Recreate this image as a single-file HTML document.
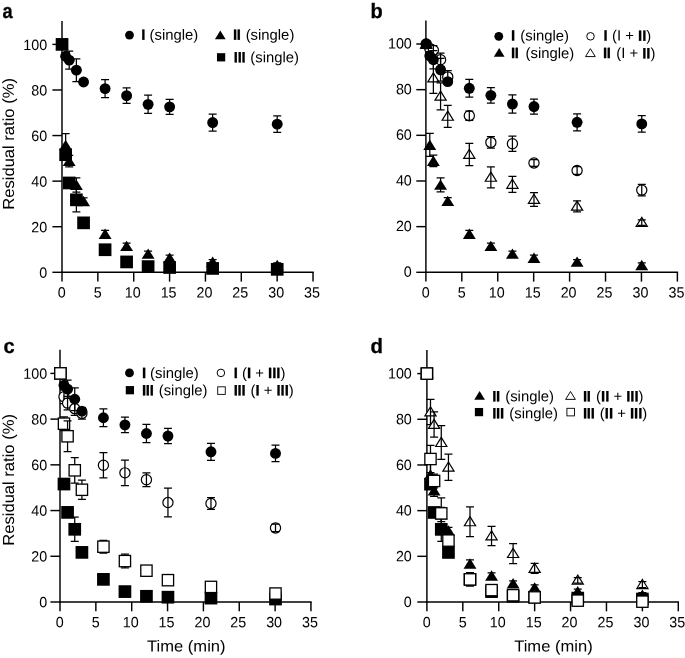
<!DOCTYPE html>
<html><head><meta charset="utf-8"><title>Residual ratio</title>
<style>
html,body{margin:0;padding:0;background:#fff;}
body{width:685px;height:658px;overflow:hidden;}
svg{display:block;will-change:transform;}
svg text{font-family:"Liberation Sans",sans-serif;fill:#000;text-rendering:geometricPrecision;}
</style></head><body>
<svg width="685" height="658" viewBox="0 0 685 658">
<rect width="685" height="658" fill="#fff"/>
<text transform="matrix(0.88,0.001,0,1,2.6,18)" font-size="20.7" font-weight="bold" stroke="#000" stroke-width="0.3">a</text>
<text transform="matrix(0.967,0.001,0,1,370.4,18)" font-size="20.7" font-weight="bold" stroke="#000" stroke-width="0.3">b</text>
<text transform="matrix(0.97,0.001,0,1,3.4,353)" font-size="20.7" font-weight="bold" stroke="#000" stroke-width="0.3">c</text>
<text transform="matrix(0.983,0.001,0,1,370.6,353)" font-size="20.7" font-weight="bold" stroke="#000" stroke-width="0.3">d</text>
<path d="M62 20.93V273.03" stroke="#000" stroke-width="1.45"/><path d="M61.27 272.3H313.75" stroke="#000" stroke-width="1.45"/><path d="M52.4 272.3H62" stroke="#000" stroke-width="1.45"/><text transform="matrix(0.96,0.001,0,1,47.1,277.8)" text-anchor="end" font-size="14.9">0</text><path d="M52.4 226.72H62" stroke="#000" stroke-width="1.45"/><text transform="matrix(0.96,0.001,0,1,47.1,232.22)" text-anchor="end" font-size="14.9">20</text><path d="M52.4 181.14H62" stroke="#000" stroke-width="1.45"/><text transform="matrix(0.96,0.001,0,1,47.1,186.64)" text-anchor="end" font-size="14.9">40</text><path d="M52.4 135.56H62" stroke="#000" stroke-width="1.45"/><text transform="matrix(0.96,0.001,0,1,47.1,141.06)" text-anchor="end" font-size="14.9">60</text><path d="M52.4 89.98H62" stroke="#000" stroke-width="1.45"/><text transform="matrix(0.96,0.001,0,1,47.1,95.48)" text-anchor="end" font-size="14.9">80</text><path d="M52.4 44.4H62" stroke="#000" stroke-width="1.45"/><text transform="matrix(0.96,0.001,0,1,47.1,49.9)" text-anchor="end" font-size="14.9">100</text><path d="M62 272.3V281.6" stroke="#000" stroke-width="1.45"/><text transform="matrix(0.96,0.001,0,1,61.8,297.6)" text-anchor="middle" font-size="14.9">0</text><path d="M97.86 272.3V281.6" stroke="#000" stroke-width="1.45"/><text transform="matrix(0.96,0.001,0,1,97.66,297.6)" text-anchor="middle" font-size="14.9">5</text><path d="M133.72 272.3V281.6" stroke="#000" stroke-width="1.45"/><text transform="matrix(0.96,0.001,0,1,132.72,297.6)" text-anchor="middle" font-size="14.9">10</text><path d="M169.58 272.3V281.6" stroke="#000" stroke-width="1.45"/><text transform="matrix(0.96,0.001,0,1,168.58,297.6)" text-anchor="middle" font-size="14.9">15</text><path d="M205.44 272.3V281.6" stroke="#000" stroke-width="1.45"/><text transform="matrix(0.96,0.001,0,1,204.44,297.6)" text-anchor="middle" font-size="14.9">20</text><path d="M241.3 272.3V281.6" stroke="#000" stroke-width="1.45"/><text transform="matrix(0.96,0.001,0,1,240.3,297.6)" text-anchor="middle" font-size="14.9">25</text><path d="M277.16 272.3V281.6" stroke="#000" stroke-width="1.45"/><text transform="matrix(0.96,0.001,0,1,276.16,297.6)" text-anchor="middle" font-size="14.9">30</text><path d="M313.02 272.3V281.6" stroke="#000" stroke-width="1.45"/><text transform="matrix(0.96,0.001,0,1,312.02,297.6)" text-anchor="middle" font-size="14.9">35</text>
<circle cx="62.05" cy="44.4" r="5.45" fill="#000"/><path d="M65.64 52.83V59.67M61.64 52.83H69.64M61.64 59.67H69.64" stroke="#000" stroke-width="1.25" fill="none"/><circle cx="65.64" cy="56.25" r="5.45" fill="#000"/><path d="M69.22 51.01V69.24M65.22 51.01H73.22M65.22 69.24H73.22" stroke="#000" stroke-width="1.25" fill="none"/><circle cx="69.22" cy="60.13" r="5.45" fill="#000"/><path d="M76.39 58.76V81.55M72.39 58.76H80.39M72.39 81.55H80.39" stroke="#000" stroke-width="1.25" fill="none"/><circle cx="76.39" cy="70.15" r="5.45" fill="#000"/><path d="M83.57 79.72V84.28M79.57 79.72H87.57M79.57 84.28H87.57" stroke="#000" stroke-width="1.25" fill="none"/><circle cx="83.57" cy="82" r="5.45" fill="#000"/><path d="M105.08 79.72V97.5M101.08 79.72H109.08M101.08 97.5H109.08" stroke="#000" stroke-width="1.25" fill="none"/><circle cx="105.08" cy="88.61" r="5.45" fill="#000"/><path d="M126.6 87.93V103.43M122.6 87.93H130.6M122.6 103.43H130.6" stroke="#000" stroke-width="1.25" fill="none"/><circle cx="126.6" cy="95.68" r="5.45" fill="#000"/><path d="M148.11 95.22V113.45M144.11 95.22H152.11M144.11 113.45H152.11" stroke="#000" stroke-width="1.25" fill="none"/><circle cx="148.11" cy="104.34" r="5.45" fill="#000"/><path d="M169.63 99.32V114.37M165.63 99.32H173.63M165.63 114.37H173.63" stroke="#000" stroke-width="1.25" fill="none"/><circle cx="169.63" cy="106.84" r="5.45" fill="#000"/><path d="M212.66 114.14V131M208.66 114.14H216.66M208.66 131H216.66" stroke="#000" stroke-width="1.25" fill="none"/><circle cx="212.66" cy="122.57" r="5.45" fill="#000"/><path d="M277.21 115.96V132.37M273.21 115.96H281.21M273.21 132.37H281.21" stroke="#000" stroke-width="1.25" fill="none"/><circle cx="277.21" cy="124.17" r="5.45" fill="#000"/>
<polygon points="62.05,39 68.5,49.4 55.6,49.4" fill="#000"/><path d="M65.64 133.74V156.53M61.64 133.74H69.64M61.64 156.53H69.64" stroke="#000" stroke-width="1.25" fill="none"/><polygon points="65.64,139.73 72.09,150.13 59.19,150.13" fill="#000"/><path d="M69.22 155.39V166.78M65.22 155.39H73.22M65.22 166.78H73.22" stroke="#000" stroke-width="1.25" fill="none"/><polygon points="69.22,155.68 75.67,166.08 62.77,166.08" fill="#000"/><path d="M76.39 177.95V192.08M72.39 177.95H80.39M72.39 192.08H80.39" stroke="#000" stroke-width="1.25" fill="none"/><polygon points="76.39,179.61 82.84,190.01 69.94,190.01" fill="#000"/><path d="M83.57 197.78V204.61M79.57 197.78H87.57M79.57 204.61H87.57" stroke="#000" stroke-width="1.25" fill="none"/><polygon points="83.57,195.8 90.02,206.2 77.12,206.2" fill="#000"/><path d="M105.08 230.37V237.66M101.08 230.37H109.08M101.08 237.66H109.08" stroke="#000" stroke-width="1.25" fill="none"/><polygon points="105.08,228.61 111.53,239.01 98.63,239.01" fill="#000"/><path d="M126.6 243.13V249.05M122.6 243.13H130.6M122.6 249.05H130.6" stroke="#000" stroke-width="1.25" fill="none"/><polygon points="126.6,240.69 133.05,251.09 120.15,251.09" fill="#000"/><path d="M148.11 251.11V256.57M144.11 251.11H152.11M144.11 256.57H152.11" stroke="#000" stroke-width="1.25" fill="none"/><polygon points="148.11,248.44 154.56,258.84 141.66,258.84" fill="#000"/><path d="M169.63 255.21V260.68M165.63 255.21H173.63M165.63 260.68H173.63" stroke="#000" stroke-width="1.25" fill="none"/><polygon points="169.63,252.54 176.08,262.94 163.18,262.94" fill="#000"/><path d="M212.66 259.54V264.1M208.66 259.54H216.66M208.66 264.1H216.66" stroke="#000" stroke-width="1.25" fill="none"/><polygon points="212.66,256.42 219.11,266.82 206.21,266.82" fill="#000"/><path d="M277.21 262.96V267.51M273.21 262.96H281.21M273.21 267.51H281.21" stroke="#000" stroke-width="1.25" fill="none"/><polygon points="277.21,259.84 283.66,270.24 270.76,270.24" fill="#000"/>
<rect x="55.7" y="38.05" width="12.7" height="12.7" fill="#000"/><path d="M65.64 150.15V159.26M61.64 150.15H69.64M61.64 159.26H69.64" stroke="#000" stroke-width="1.25" fill="none"/><rect x="59.29" y="148.35" width="12.7" height="12.7" fill="#000"/><path d="M69.22 180.68V185.24M65.22 180.68H73.22M65.22 185.24H73.22" stroke="#000" stroke-width="1.25" fill="none"/><rect x="62.87" y="176.61" width="12.7" height="12.7" fill="#000"/><path d="M76.39 187.75V211.91M72.39 187.75H80.39M72.39 211.91H80.39" stroke="#000" stroke-width="1.25" fill="none"/><rect x="70.04" y="193.48" width="12.7" height="12.7" fill="#000"/><path d="M83.57 220.57V225.12M79.57 220.57H87.57M79.57 225.12H87.57" stroke="#000" stroke-width="1.25" fill="none"/><rect x="77.22" y="216.5" width="12.7" height="12.7" fill="#000"/><path d="M105.08 247.46V252.02M101.08 247.46H109.08M101.08 252.02H109.08" stroke="#000" stroke-width="1.25" fill="none"/><rect x="98.73" y="243.39" width="12.7" height="12.7" fill="#000"/><path d="M126.6 260.11V263.75M122.6 260.11H130.6M122.6 263.75H130.6" stroke="#000" stroke-width="1.25" fill="none"/><rect x="120.25" y="255.58" width="12.7" height="12.7" fill="#000"/><path d="M148.11 265.46V267.74M144.11 265.46H152.11M144.11 267.74H152.11" stroke="#000" stroke-width="1.25" fill="none"/><rect x="141.76" y="260.25" width="12.7" height="12.7" fill="#000"/><path d="M169.63 266.37V268.65M165.63 266.37H173.63M165.63 268.65H173.63" stroke="#000" stroke-width="1.25" fill="none"/><rect x="163.28" y="261.16" width="12.7" height="12.7" fill="#000"/><path d="M212.66 267.51V269.34M208.66 267.51H216.66M208.66 269.34H216.66" stroke="#000" stroke-width="1.25" fill="none"/><rect x="206.31" y="262.08" width="12.7" height="12.7" fill="#000"/><path d="M277.21 268.65V270.02M273.21 268.65H281.21M273.21 270.02H281.21" stroke="#000" stroke-width="1.25" fill="none"/><rect x="270.86" y="262.99" width="12.7" height="12.7" fill="#000"/>
<path d="M425.9 20.49V273.03" stroke="#000" stroke-width="1.45"/><path d="M425.17 272.3H678.1" stroke="#000" stroke-width="1.45"/><path d="M416.3 272.3H425.9" stroke="#000" stroke-width="1.45"/><text transform="matrix(0.96,0.001,0,1,411.8,276.8)" text-anchor="end" font-size="14.9">0</text><path d="M416.3 226.64H425.9" stroke="#000" stroke-width="1.45"/><text transform="matrix(0.96,0.001,0,1,411.8,231.14)" text-anchor="end" font-size="14.9">20</text><path d="M416.3 180.98H425.9" stroke="#000" stroke-width="1.45"/><text transform="matrix(0.96,0.001,0,1,411.8,185.48)" text-anchor="end" font-size="14.9">40</text><path d="M416.3 135.32H425.9" stroke="#000" stroke-width="1.45"/><text transform="matrix(0.96,0.001,0,1,411.8,139.82)" text-anchor="end" font-size="14.9">60</text><path d="M416.3 89.66H425.9" stroke="#000" stroke-width="1.45"/><text transform="matrix(0.96,0.001,0,1,411.8,94.16)" text-anchor="end" font-size="14.9">80</text><path d="M416.3 44H425.9" stroke="#000" stroke-width="1.45"/><text transform="matrix(0.96,0.001,0,1,411.8,48.5)" text-anchor="end" font-size="14.9">100</text><path d="M425.9 272.3V281.6" stroke="#000" stroke-width="1.45"/><text transform="matrix(0.96,0.001,0,1,425.7,297.6)" text-anchor="middle" font-size="14.9">0</text><path d="M461.82 272.3V281.6" stroke="#000" stroke-width="1.45"/><text transform="matrix(0.96,0.001,0,1,461.62,297.6)" text-anchor="middle" font-size="14.9">5</text><path d="M497.75 272.3V281.6" stroke="#000" stroke-width="1.45"/><text transform="matrix(0.96,0.001,0,1,496.75,297.6)" text-anchor="middle" font-size="14.9">10</text><path d="M533.67 272.3V281.6" stroke="#000" stroke-width="1.45"/><text transform="matrix(0.96,0.001,0,1,532.67,297.6)" text-anchor="middle" font-size="14.9">15</text><path d="M569.6 272.3V281.6" stroke="#000" stroke-width="1.45"/><text transform="matrix(0.96,0.001,0,1,568.6,297.6)" text-anchor="middle" font-size="14.9">20</text><path d="M605.52 272.3V281.6" stroke="#000" stroke-width="1.45"/><text transform="matrix(0.96,0.001,0,1,604.52,297.6)" text-anchor="middle" font-size="14.9">25</text><path d="M641.45 272.3V281.6" stroke="#000" stroke-width="1.45"/><text transform="matrix(0.96,0.001,0,1,640.45,297.6)" text-anchor="middle" font-size="14.9">30</text><path d="M677.38 272.3V281.6" stroke="#000" stroke-width="1.45"/><text transform="matrix(0.96,0.001,0,1,676.38,297.6)" text-anchor="middle" font-size="14.9">35</text>
<circle cx="426.2" cy="44" r="5.1" fill="#fff" stroke="#000" stroke-width="1.2"/><circle cx="429.79" cy="48.57" r="5.1" fill="#fff" stroke="#000" stroke-width="1.2"/><path d="M429.79 45.14V51.99M425.79 45.14H433.79M425.79 51.99H433.79" stroke="#000" stroke-width="1.25" fill="none"/><circle cx="433.38" cy="50.16" r="5.1" fill="#fff" stroke="#000" stroke-width="1.2"/><path d="M433.38 45.6V54.73M429.38 45.6H437.38M429.38 54.73H437.38" stroke="#000" stroke-width="1.25" fill="none"/><circle cx="440.57" cy="59.75" r="5.1" fill="#fff" stroke="#000" stroke-width="1.2"/><path d="M440.57 53.13V66.37M436.57 53.13H444.57M436.57 66.37H444.57" stroke="#000" stroke-width="1.25" fill="none"/><circle cx="447.75" cy="76.88" r="5.1" fill="#fff" stroke="#000" stroke-width="1.2"/><path d="M447.75 70.71V83.04M443.75 70.71H451.75M443.75 83.04H451.75" stroke="#000" stroke-width="1.25" fill="none"/><circle cx="469.31" cy="115.69" r="5.1" fill="#fff" stroke="#000" stroke-width="1.2"/><path d="M469.31 111.12V120.25M465.31 111.12H473.31M465.31 120.25H473.31" stroke="#000" stroke-width="1.25" fill="none"/><circle cx="490.87" cy="142.4" r="5.1" fill="#fff" stroke="#000" stroke-width="1.2"/><path d="M490.87 136.69V148.1M486.87 136.69H494.87M486.87 148.1H494.87" stroke="#000" stroke-width="1.25" fill="none"/><circle cx="512.42" cy="143.77" r="5.1" fill="#fff" stroke="#000" stroke-width="1.2"/><path d="M512.42 136.23V151.3M508.42 136.23H516.42M508.42 151.3H516.42" stroke="#000" stroke-width="1.25" fill="none"/><circle cx="533.98" cy="162.94" r="5.1" fill="#fff" stroke="#000" stroke-width="1.2"/><path d="M533.98 159.52V166.37M529.98 159.52H537.98M529.98 166.37H537.98" stroke="#000" stroke-width="1.25" fill="none"/><circle cx="577.09" cy="170.48" r="5.1" fill="#fff" stroke="#000" stroke-width="1.2"/><path d="M577.09 166.71V174.25M573.09 166.71H581.09M573.09 174.25H581.09" stroke="#000" stroke-width="1.25" fill="none"/><circle cx="641.75" cy="190.11" r="5.1" fill="#fff" stroke="#000" stroke-width="1.2"/><path d="M641.75 184.4V195.82M637.75 184.4H645.75M637.75 195.82H645.75" stroke="#000" stroke-width="1.25" fill="none"/>
<polygon points="426.2,38.8 431.8,47.9 420.6,47.9" fill="#fff" stroke="#000" stroke-width="1.2" stroke-linejoin="miter"/><polygon points="433.38,72.82 438.99,81.92 427.78,81.92" fill="#fff" stroke="#000" stroke-width="1.2" stroke-linejoin="miter"/><path d="M433.38 62.72V93.31M429.38 62.72H437.38M429.38 93.31H437.38" stroke="#000" stroke-width="1.25" fill="none"/><polygon points="440.57,91.08 446.17,100.18 434.97,100.18" fill="#fff" stroke="#000" stroke-width="1.2" stroke-linejoin="miter"/><path d="M440.57 82.81V109.75M436.57 82.81H444.57M436.57 109.75H444.57" stroke="#000" stroke-width="1.25" fill="none"/><polygon points="447.75,111.17 453.36,120.27 442.15,120.27" fill="#fff" stroke="#000" stroke-width="1.2" stroke-linejoin="miter"/><path d="M447.75 105.41V127.33M443.75 105.41H451.75M443.75 127.33H451.75" stroke="#000" stroke-width="1.25" fill="none"/><polygon points="469.31,149.3 474.91,158.4 463.71,158.4" fill="#fff" stroke="#000" stroke-width="1.2" stroke-linejoin="miter"/><path d="M469.31 143.31V165.68M465.31 143.31H473.31M465.31 165.68H473.31" stroke="#000" stroke-width="1.25" fill="none"/><polygon points="490.87,172.13 496.47,181.23 485.26,181.23" fill="#fff" stroke="#000" stroke-width="1.2" stroke-linejoin="miter"/><path d="M490.87 166.83V187.83M486.87 166.83H494.87M486.87 187.83H494.87" stroke="#000" stroke-width="1.25" fill="none"/><polygon points="512.42,179.2 518.02,188.3 506.82,188.3" fill="#fff" stroke="#000" stroke-width="1.2" stroke-linejoin="miter"/><path d="M512.42 176.41V192.4M508.42 176.41H516.42M508.42 192.4H516.42" stroke="#000" stroke-width="1.25" fill="none"/><polygon points="533.98,194.27 539.58,203.37 528.38,203.37" fill="#fff" stroke="#000" stroke-width="1.2" stroke-linejoin="miter"/><path d="M533.98 192.62V206.32M529.98 192.62H537.98M529.98 206.32H537.98" stroke="#000" stroke-width="1.25" fill="none"/><polygon points="577.09,201.12 582.69,210.22 571.49,210.22" fill="#fff" stroke="#000" stroke-width="1.2" stroke-linejoin="miter"/><path d="M577.09 200.84V211.8M573.09 200.84H581.09M573.09 211.8H581.09" stroke="#000" stroke-width="1.25" fill="none"/><polygon points="641.75,217.33 647.35,226.43 636.15,226.43" fill="#fff" stroke="#000" stroke-width="1.2" stroke-linejoin="miter"/><path d="M641.75 219.79V225.27M637.75 219.79H645.75M637.75 225.27H645.75" stroke="#000" stroke-width="1.25" fill="none"/>
<polygon points="426.2,38.6 432.65,49 419.75,49" fill="#000"/><path d="M429.79 133.49V156.32M425.79 133.49H433.79M425.79 156.32H433.79" stroke="#000" stroke-width="1.25" fill="none"/><polygon points="429.79,139.51 436.24,149.91 423.34,149.91" fill="#000"/><path d="M433.38 155.18V166.6M429.38 155.18H437.38M429.38 166.6H437.38" stroke="#000" stroke-width="1.25" fill="none"/><polygon points="433.38,155.49 439.83,165.89 426.94,165.89" fill="#000"/><path d="M440.57 177.78V191.94M436.57 177.78H444.57M436.57 191.94H444.57" stroke="#000" stroke-width="1.25" fill="none"/><polygon points="440.57,179.46 447.02,189.86 434.12,189.86" fill="#000"/><path d="M447.75 197.65V204.49M443.75 197.65H451.75M443.75 204.49H451.75" stroke="#000" stroke-width="1.25" fill="none"/><polygon points="447.75,195.67 454.2,206.07 441.31,206.07" fill="#000"/><path d="M469.31 230.29V237.6M465.31 230.29H473.31M465.31 237.6H473.31" stroke="#000" stroke-width="1.25" fill="none"/><polygon points="469.31,228.55 475.76,238.95 462.86,238.95" fill="#000"/><path d="M490.87 243.08V249.01M486.87 243.08H494.87M486.87 249.01H494.87" stroke="#000" stroke-width="1.25" fill="none"/><polygon points="490.87,240.65 497.31,251.05 484.42,251.05" fill="#000"/><path d="M512.42 251.07V256.55M508.42 251.07H516.42M508.42 256.55H516.42" stroke="#000" stroke-width="1.25" fill="none"/><polygon points="512.42,248.41 518.87,258.81 505.97,258.81" fill="#000"/><path d="M533.98 255.18V260.66M529.98 255.18H537.98M529.98 260.66H537.98" stroke="#000" stroke-width="1.25" fill="none"/><polygon points="533.98,252.52 540.43,262.92 527.52,262.92" fill="#000"/><path d="M577.09 259.52V264.08M573.09 259.52H581.09M573.09 264.08H581.09" stroke="#000" stroke-width="1.25" fill="none"/><polygon points="577.09,256.4 583.54,266.8 570.63,266.8" fill="#000"/><path d="M641.75 262.94V267.51M637.75 262.94H645.75M637.75 267.51H645.75" stroke="#000" stroke-width="1.25" fill="none"/><polygon points="641.75,259.82 648.2,270.22 635.3,270.22" fill="#000"/>
<circle cx="426.2" cy="44" r="5.45" fill="#000"/><path d="M429.79 52.45V59.3M425.79 52.45H433.79M425.79 59.3H433.79" stroke="#000" stroke-width="1.25" fill="none"/><circle cx="429.79" cy="55.87" r="5.45" fill="#000"/><path d="M433.38 50.62V68.88M429.38 50.62H437.38M429.38 68.88H437.38" stroke="#000" stroke-width="1.25" fill="none"/><circle cx="433.38" cy="59.75" r="5.45" fill="#000"/><path d="M440.57 58.38V81.21M436.57 58.38H444.57M436.57 81.21H444.57" stroke="#000" stroke-width="1.25" fill="none"/><circle cx="440.57" cy="69.8" r="5.45" fill="#000"/><path d="M447.75 79.39V83.95M443.75 79.39H451.75M443.75 83.95H451.75" stroke="#000" stroke-width="1.25" fill="none"/><circle cx="447.75" cy="81.67" r="5.45" fill="#000"/><path d="M469.31 79.39V97.19M465.31 79.39H473.31M465.31 97.19H473.31" stroke="#000" stroke-width="1.25" fill="none"/><circle cx="469.31" cy="88.29" r="5.45" fill="#000"/><path d="M490.87 87.61V103.13M486.87 87.61H494.87M486.87 103.13H494.87" stroke="#000" stroke-width="1.25" fill="none"/><circle cx="490.87" cy="95.37" r="5.45" fill="#000"/><path d="M512.42 94.91V113.17M508.42 94.91H516.42M508.42 113.17H516.42" stroke="#000" stroke-width="1.25" fill="none"/><circle cx="512.42" cy="104.04" r="5.45" fill="#000"/><path d="M533.98 99.02V114.09M529.98 99.02H537.98M529.98 114.09H537.98" stroke="#000" stroke-width="1.25" fill="none"/><circle cx="533.98" cy="106.55" r="5.45" fill="#000"/><path d="M577.09 113.86V130.75M573.09 113.86H581.09M573.09 130.75H581.09" stroke="#000" stroke-width="1.25" fill="none"/><circle cx="577.09" cy="122.31" r="5.45" fill="#000"/><path d="M641.75 115.69V132.12M637.75 115.69H645.75M637.75 132.12H645.75" stroke="#000" stroke-width="1.25" fill="none"/><circle cx="641.75" cy="123.91" r="5.45" fill="#000"/>
<path d="M60 349.85V602.73" stroke="#000" stroke-width="1.45"/><path d="M59.27 602H311.68" stroke="#000" stroke-width="1.45"/><path d="M50.4 602H60" stroke="#000" stroke-width="1.45"/><text transform="matrix(0.96,0.001,0,1,47.1,607.3)" text-anchor="end" font-size="14.9">0</text><path d="M50.4 556.28H60" stroke="#000" stroke-width="1.45"/><text transform="matrix(0.96,0.001,0,1,47.1,561.58)" text-anchor="end" font-size="14.9">20</text><path d="M50.4 510.56H60" stroke="#000" stroke-width="1.45"/><text transform="matrix(0.96,0.001,0,1,47.1,515.86)" text-anchor="end" font-size="14.9">40</text><path d="M50.4 464.84H60" stroke="#000" stroke-width="1.45"/><text transform="matrix(0.96,0.001,0,1,47.1,470.14)" text-anchor="end" font-size="14.9">60</text><path d="M50.4 419.12H60" stroke="#000" stroke-width="1.45"/><text transform="matrix(0.96,0.001,0,1,47.1,424.42)" text-anchor="end" font-size="14.9">80</text><path d="M50.4 373.4H60" stroke="#000" stroke-width="1.45"/><text transform="matrix(0.96,0.001,0,1,47.1,378.7)" text-anchor="end" font-size="14.9">100</text><path d="M60 602V611.3" stroke="#000" stroke-width="1.45"/><text transform="matrix(0.96,0.001,0,1,59.8,627.3)" text-anchor="middle" font-size="14.9">0</text><path d="M95.85 602V611.3" stroke="#000" stroke-width="1.45"/><text transform="matrix(0.96,0.001,0,1,95.65,627.3)" text-anchor="middle" font-size="14.9">5</text><path d="M131.7 602V611.3" stroke="#000" stroke-width="1.45"/><text transform="matrix(0.96,0.001,0,1,130.7,627.3)" text-anchor="middle" font-size="14.9">10</text><path d="M167.55 602V611.3" stroke="#000" stroke-width="1.45"/><text transform="matrix(0.96,0.001,0,1,166.55,627.3)" text-anchor="middle" font-size="14.9">15</text><path d="M203.4 602V611.3" stroke="#000" stroke-width="1.45"/><text transform="matrix(0.96,0.001,0,1,202.4,627.3)" text-anchor="middle" font-size="14.9">20</text><path d="M239.25 602V611.3" stroke="#000" stroke-width="1.45"/><text transform="matrix(0.96,0.001,0,1,238.25,627.3)" text-anchor="middle" font-size="14.9">25</text><path d="M275.1 602V611.3" stroke="#000" stroke-width="1.45"/><text transform="matrix(0.96,0.001,0,1,274.1,627.3)" text-anchor="middle" font-size="14.9">30</text><path d="M310.95 602V611.3" stroke="#000" stroke-width="1.45"/><text transform="matrix(0.96,0.001,0,1,309.95,627.3)" text-anchor="middle" font-size="14.9">35</text>
<circle cx="60.4" cy="373.4" r="5.1" fill="#fff" stroke="#000" stroke-width="1.2"/><circle cx="63.98" cy="396.72" r="5.1" fill="#fff" stroke="#000" stroke-width="1.2"/><path d="M63.98 389.86V403.58M59.98 389.86H67.98M59.98 403.58H67.98" stroke="#000" stroke-width="1.25" fill="none"/><circle cx="67.57" cy="403.12" r="5.1" fill="#fff" stroke="#000" stroke-width="1.2"/><path d="M67.57 396.26V409.98M63.57 396.26H71.57M63.57 409.98H71.57" stroke="#000" stroke-width="1.25" fill="none"/><circle cx="74.74" cy="408.6" r="5.1" fill="#fff" stroke="#000" stroke-width="1.2"/><path d="M74.74 401.75V415.46M70.74 401.75H78.74M70.74 415.46H78.74" stroke="#000" stroke-width="1.25" fill="none"/><circle cx="81.91" cy="413.4" r="5.1" fill="#fff" stroke="#000" stroke-width="1.2"/><path d="M81.91 407.69V419.12M77.91 407.69H85.91M77.91 419.12H85.91" stroke="#000" stroke-width="1.25" fill="none"/><circle cx="103.42" cy="465.3" r="5.1" fill="#fff" stroke="#000" stroke-width="1.2"/><path d="M103.42 452.72V477.87M99.42 452.72H107.42M99.42 477.87H107.42" stroke="#000" stroke-width="1.25" fill="none"/><circle cx="124.93" cy="472.84" r="5.1" fill="#fff" stroke="#000" stroke-width="1.2"/><path d="M124.93 460.04V485.64M120.93 460.04H128.93M120.93 485.64H128.93" stroke="#000" stroke-width="1.25" fill="none"/><circle cx="146.44" cy="479.7" r="5.1" fill="#fff" stroke="#000" stroke-width="1.2"/><path d="M146.44 472.84V486.56M142.44 472.84H150.44M142.44 486.56H150.44" stroke="#000" stroke-width="1.25" fill="none"/><circle cx="167.95" cy="502.56" r="5.1" fill="#fff" stroke="#000" stroke-width="1.2"/><path d="M167.95 488.16V516.96M163.95 488.16H171.95M163.95 516.96H171.95" stroke="#000" stroke-width="1.25" fill="none"/><circle cx="210.97" cy="503.47" r="5.1" fill="#fff" stroke="#000" stroke-width="1.2"/><path d="M210.97 497.53V509.42M206.97 497.53H214.97M206.97 509.42H214.97" stroke="#000" stroke-width="1.25" fill="none"/><circle cx="275.5" cy="527.93" r="5.1" fill="#fff" stroke="#000" stroke-width="1.2"/><path d="M275.5 524.16V531.71M271.5 524.16H279.5M271.5 531.71H279.5" stroke="#000" stroke-width="1.25" fill="none"/>
<circle cx="60.4" cy="373.4" r="5.45" fill="#000"/><path d="M63.98 381.86V388.72M59.98 381.86H67.98M59.98 388.72H67.98" stroke="#000" stroke-width="1.25" fill="none"/><circle cx="63.98" cy="385.29" r="5.45" fill="#000"/><path d="M67.57 380.03V398.32M63.57 380.03H71.57M63.57 398.32H71.57" stroke="#000" stroke-width="1.25" fill="none"/><circle cx="67.57" cy="389.17" r="5.45" fill="#000"/><path d="M74.74 387.8V410.66M70.74 387.8H78.74M70.74 410.66H78.74" stroke="#000" stroke-width="1.25" fill="none"/><circle cx="74.74" cy="399.23" r="5.45" fill="#000"/><path d="M81.91 408.83V413.41M77.91 408.83H85.91M77.91 413.41H85.91" stroke="#000" stroke-width="1.25" fill="none"/><circle cx="81.91" cy="411.12" r="5.45" fill="#000"/><path d="M103.42 408.83V426.66M99.42 408.83H107.42M99.42 426.66H107.42" stroke="#000" stroke-width="1.25" fill="none"/><circle cx="103.42" cy="417.75" r="5.45" fill="#000"/><path d="M124.93 417.06V432.61M120.93 417.06H128.93M120.93 432.61H128.93" stroke="#000" stroke-width="1.25" fill="none"/><circle cx="124.93" cy="424.84" r="5.45" fill="#000"/><path d="M146.44 424.38V442.67M142.44 424.38H150.44M142.44 442.67H150.44" stroke="#000" stroke-width="1.25" fill="none"/><circle cx="146.44" cy="433.52" r="5.45" fill="#000"/><path d="M167.95 428.49V443.58M163.95 428.49H171.95M163.95 443.58H171.95" stroke="#000" stroke-width="1.25" fill="none"/><circle cx="167.95" cy="436.04" r="5.45" fill="#000"/><path d="M210.97 443.35V460.27M206.97 443.35H214.97M206.97 460.27H214.97" stroke="#000" stroke-width="1.25" fill="none"/><circle cx="210.97" cy="451.81" r="5.45" fill="#000"/><path d="M275.5 445.18V461.64M271.5 445.18H279.5M271.5 461.64H279.5" stroke="#000" stroke-width="1.25" fill="none"/><circle cx="275.5" cy="453.41" r="5.45" fill="#000"/>
<rect x="54.05" y="367.05" width="12.7" height="12.7" fill="#000"/><path d="M63.98 479.47V488.61M59.98 479.47H67.98M59.98 488.61H67.98" stroke="#000" stroke-width="1.25" fill="none"/><rect x="57.63" y="477.69" width="12.7" height="12.7" fill="#000"/><path d="M67.57 510.1V514.67M63.57 510.1H71.57M63.57 514.67H71.57" stroke="#000" stroke-width="1.25" fill="none"/><rect x="61.22" y="506.04" width="12.7" height="12.7" fill="#000"/><path d="M74.74 517.19V541.42M70.74 517.19H78.74M70.74 541.42H78.74" stroke="#000" stroke-width="1.25" fill="none"/><rect x="68.39" y="522.96" width="12.7" height="12.7" fill="#000"/><path d="M81.91 550.11V554.68M77.91 550.11H85.91M77.91 554.68H85.91" stroke="#000" stroke-width="1.25" fill="none"/><rect x="75.56" y="546.04" width="12.7" height="12.7" fill="#000"/><path d="M103.42 577.08V581.65M99.42 577.08H107.42M99.42 581.65H107.42" stroke="#000" stroke-width="1.25" fill="none"/><rect x="97.07" y="573.02" width="12.7" height="12.7" fill="#000"/><path d="M124.93 589.77V593.43M120.93 589.77H128.93M120.93 593.43H128.93" stroke="#000" stroke-width="1.25" fill="none"/><rect x="118.58" y="585.25" width="12.7" height="12.7" fill="#000"/><path d="M146.44 595.14V597.43M142.44 595.14H150.44M142.44 597.43H150.44" stroke="#000" stroke-width="1.25" fill="none"/><rect x="140.09" y="589.93" width="12.7" height="12.7" fill="#000"/><path d="M167.95 596.06V598.34M163.95 596.06H171.95M163.95 598.34H171.95" stroke="#000" stroke-width="1.25" fill="none"/><rect x="161.6" y="590.85" width="12.7" height="12.7" fill="#000"/><path d="M210.97 597.2V599.03M206.97 597.2H214.97M206.97 599.03H214.97" stroke="#000" stroke-width="1.25" fill="none"/><rect x="204.62" y="591.76" width="12.7" height="12.7" fill="#000"/><path d="M275.5 598.34V599.71M271.5 598.34H279.5M271.5 599.71H279.5" stroke="#000" stroke-width="1.25" fill="none"/><rect x="269.15" y="592.68" width="12.7" height="12.7" fill="#000"/>
<rect x="54.75" y="367.75" width="11.3" height="11.3" fill="#fff" stroke="#000" stroke-width="1.3"/><path d="M63.98 416.83V430.55M59.98 416.83H67.98M59.98 430.55H67.98" stroke="#000" stroke-width="1.25" fill="none"/><rect x="58.34" y="418.04" width="11.3" height="11.3" fill="#fff" stroke="#000" stroke-width="1.3"/><path d="M67.57 420.95V451.58M63.57 420.95H71.57M63.57 451.58H71.57" stroke="#000" stroke-width="1.25" fill="none"/><rect x="61.92" y="430.62" width="11.3" height="11.3" fill="#fff" stroke="#000" stroke-width="1.3"/><path d="M74.74 457.52V483.13M70.74 457.52H78.74M70.74 483.13H78.74" stroke="#000" stroke-width="1.25" fill="none"/><rect x="69.09" y="464.68" width="11.3" height="11.3" fill="#fff" stroke="#000" stroke-width="1.3"/><path d="M81.91 480.16V499.36M77.91 480.16H85.91M77.91 499.36H85.91" stroke="#000" stroke-width="1.25" fill="none"/><rect x="76.26" y="484.11" width="11.3" height="11.3" fill="#fff" stroke="#000" stroke-width="1.3"/><path d="M103.42 540.28V553.08M99.42 540.28H107.42M99.42 553.08H107.42" stroke="#000" stroke-width="1.25" fill="none"/><rect x="97.77" y="541.03" width="11.3" height="11.3" fill="#fff" stroke="#000" stroke-width="1.3"/><path d="M124.93 554.22V567.94M120.93 554.22H128.93M120.93 567.94H128.93" stroke="#000" stroke-width="1.25" fill="none"/><rect x="119.28" y="555.43" width="11.3" height="11.3" fill="#fff" stroke="#000" stroke-width="1.3"/><path d="M146.44 568.4V572.97M142.44 568.4H150.44M142.44 572.97H150.44" stroke="#000" stroke-width="1.25" fill="none"/><rect x="140.79" y="565.03" width="11.3" height="11.3" fill="#fff" stroke="#000" stroke-width="1.3"/><path d="M167.95 577.88V582.45M163.95 577.88H171.95M163.95 582.45H171.95" stroke="#000" stroke-width="1.25" fill="none"/><rect x="162.3" y="574.52" width="11.3" height="11.3" fill="#fff" stroke="#000" stroke-width="1.3"/><path d="M210.97 585.08V588.74M206.97 585.08H214.97M206.97 588.74H214.97" stroke="#000" stroke-width="1.25" fill="none"/><rect x="205.32" y="581.26" width="11.3" height="11.3" fill="#fff" stroke="#000" stroke-width="1.3"/><path d="M275.5 592.4V594.68M271.5 592.4H279.5M271.5 594.68H279.5" stroke="#000" stroke-width="1.25" fill="none"/><rect x="269.85" y="587.89" width="11.3" height="11.3" fill="#fff" stroke="#000" stroke-width="1.3"/>
<path d="M426.9 350.07V602.73" stroke="#000" stroke-width="1.45"/><path d="M426.17 602H679.03" stroke="#000" stroke-width="1.45"/><path d="M417.3 602H426.9" stroke="#000" stroke-width="1.45"/><text transform="matrix(0.96,0.001,0,1,411.8,606.95)" text-anchor="end" font-size="14.9">0</text><path d="M417.3 556.32H426.9" stroke="#000" stroke-width="1.45"/><text transform="matrix(0.96,0.001,0,1,411.8,561.27)" text-anchor="end" font-size="14.9">20</text><path d="M417.3 510.64H426.9" stroke="#000" stroke-width="1.45"/><text transform="matrix(0.96,0.001,0,1,411.8,515.59)" text-anchor="end" font-size="14.9">40</text><path d="M417.3 464.96H426.9" stroke="#000" stroke-width="1.45"/><text transform="matrix(0.96,0.001,0,1,411.8,469.91)" text-anchor="end" font-size="14.9">60</text><path d="M417.3 419.28H426.9" stroke="#000" stroke-width="1.45"/><text transform="matrix(0.96,0.001,0,1,411.8,424.23)" text-anchor="end" font-size="14.9">80</text><path d="M417.3 373.6H426.9" stroke="#000" stroke-width="1.45"/><text transform="matrix(0.96,0.001,0,1,411.8,378.55)" text-anchor="end" font-size="14.9">100</text><path d="M426.9 602V611.3" stroke="#000" stroke-width="1.45"/><text transform="matrix(0.96,0.001,0,1,426.7,627.3)" text-anchor="middle" font-size="14.9">0</text><path d="M462.81 602V611.3" stroke="#000" stroke-width="1.45"/><text transform="matrix(0.96,0.001,0,1,462.62,627.3)" text-anchor="middle" font-size="14.9">5</text><path d="M498.73 602V611.3" stroke="#000" stroke-width="1.45"/><text transform="matrix(0.96,0.001,0,1,497.73,627.3)" text-anchor="middle" font-size="14.9">10</text><path d="M534.64 602V611.3" stroke="#000" stroke-width="1.45"/><text transform="matrix(0.96,0.001,0,1,533.64,627.3)" text-anchor="middle" font-size="14.9">15</text><path d="M570.56 602V611.3" stroke="#000" stroke-width="1.45"/><text transform="matrix(0.96,0.001,0,1,569.56,627.3)" text-anchor="middle" font-size="14.9">20</text><path d="M606.47 602V611.3" stroke="#000" stroke-width="1.45"/><text transform="matrix(0.96,0.001,0,1,605.47,627.3)" text-anchor="middle" font-size="14.9">25</text><path d="M642.39 602V611.3" stroke="#000" stroke-width="1.45"/><text transform="matrix(0.96,0.001,0,1,641.39,627.3)" text-anchor="middle" font-size="14.9">30</text><path d="M678.3 602V611.3" stroke="#000" stroke-width="1.45"/><text transform="matrix(0.96,0.001,0,1,677.3,627.3)" text-anchor="middle" font-size="14.9">35</text>
<polygon points="426.9,368.2 433.35,378.6 420.45,378.6" fill="#000"/><path d="M430.49 463.13V485.97M426.49 463.13H434.49M426.49 485.97H434.49" stroke="#000" stroke-width="1.25" fill="none"/><polygon points="430.49,469.15 436.94,479.55 424.04,479.55" fill="#000"/><path d="M434.08 484.83V496.25M430.08 484.83H438.08M430.08 496.25H438.08" stroke="#000" stroke-width="1.25" fill="none"/><polygon points="434.08,485.14 440.53,495.54 427.63,495.54" fill="#000"/><path d="M441.27 507.44V521.6M437.27 507.44H445.27M437.27 521.6H445.27" stroke="#000" stroke-width="1.25" fill="none"/><polygon points="441.27,509.12 447.72,519.52 434.82,519.52" fill="#000"/><path d="M448.45 527.31V534.17M444.45 527.31H452.45M444.45 534.17H452.45" stroke="#000" stroke-width="1.25" fill="none"/><polygon points="448.45,525.34 454.9,535.74 442,535.74" fill="#000"/><path d="M470 559.97V567.28M466 559.97H474M466 567.28H474" stroke="#000" stroke-width="1.25" fill="none"/><polygon points="470,558.23 476.45,568.63 463.55,568.63" fill="#000"/><path d="M491.55 572.76V578.7M487.55 572.76H495.55M487.55 578.7H495.55" stroke="#000" stroke-width="1.25" fill="none"/><polygon points="491.55,570.33 498,580.73 485.1,580.73" fill="#000"/><path d="M513.1 580.76V586.24M509.1 580.76H517.1M509.1 586.24H517.1" stroke="#000" stroke-width="1.25" fill="none"/><polygon points="513.1,578.1 519.55,588.5 506.65,588.5" fill="#000"/><path d="M534.64 584.87V590.35M530.64 584.87H538.64M530.64 590.35H538.64" stroke="#000" stroke-width="1.25" fill="none"/><polygon points="534.64,582.21 541.1,592.61 528.19,592.61" fill="#000"/><path d="M577.74 589.21V593.78M573.74 589.21H581.74M573.74 593.78H581.74" stroke="#000" stroke-width="1.25" fill="none"/><polygon points="577.74,586.09 584.19,596.49 571.29,596.49" fill="#000"/><path d="M642.39 592.64V597.2M638.39 592.64H646.39M638.39 597.2H646.39" stroke="#000" stroke-width="1.25" fill="none"/><polygon points="642.39,589.52 648.84,599.92 635.94,599.92" fill="#000"/>
<rect x="420.55" y="367.25" width="12.7" height="12.7" fill="#000"/><path d="M430.49 479.58V488.71M426.49 479.58H434.49M426.49 488.71H434.49" stroke="#000" stroke-width="1.25" fill="none"/><rect x="424.14" y="477.8" width="12.7" height="12.7" fill="#000"/><path d="M434.08 510.18V514.75M430.08 510.18H438.08M430.08 514.75H438.08" stroke="#000" stroke-width="1.25" fill="none"/><rect x="427.73" y="506.12" width="12.7" height="12.7" fill="#000"/><path d="M441.27 517.26V541.47M437.27 517.26H445.27M437.27 541.47H445.27" stroke="#000" stroke-width="1.25" fill="none"/><rect x="434.92" y="523.02" width="12.7" height="12.7" fill="#000"/><path d="M448.45 550.15V554.72M444.45 550.15H452.45M444.45 554.72H452.45" stroke="#000" stroke-width="1.25" fill="none"/><rect x="442.1" y="546.09" width="12.7" height="12.7" fill="#000"/><path d="M470 577.1V581.67M466 577.1H474M466 581.67H474" stroke="#000" stroke-width="1.25" fill="none"/><rect x="463.65" y="573.04" width="12.7" height="12.7" fill="#000"/><path d="M491.55 589.78V593.43M487.55 589.78H495.55M487.55 593.43H495.55" stroke="#000" stroke-width="1.25" fill="none"/><rect x="485.2" y="585.26" width="12.7" height="12.7" fill="#000"/><path d="M513.1 595.15V597.43M509.1 595.15H517.1M509.1 597.43H517.1" stroke="#000" stroke-width="1.25" fill="none"/><rect x="506.75" y="589.94" width="12.7" height="12.7" fill="#000"/><path d="M534.64 596.06V598.35M530.64 596.06H538.64M530.64 598.35H538.64" stroke="#000" stroke-width="1.25" fill="none"/><rect x="528.29" y="590.85" width="12.7" height="12.7" fill="#000"/><path d="M577.74 597.2V599.03M573.74 597.2H581.74M573.74 599.03H581.74" stroke="#000" stroke-width="1.25" fill="none"/><rect x="571.39" y="591.77" width="12.7" height="12.7" fill="#000"/><path d="M642.39 598.35V599.72M638.39 598.35H646.39M638.39 599.72H646.39" stroke="#000" stroke-width="1.25" fill="none"/><rect x="636.04" y="592.68" width="12.7" height="12.7" fill="#000"/>
<polygon points="426.9,368.4 432.5,377.5 421.3,377.5" fill="#fff" stroke="#000" stroke-width="1.2" stroke-linejoin="miter"/><polygon points="430.49,406.77 436.09,415.87 424.89,415.87" fill="#fff" stroke="#000" stroke-width="1.2" stroke-linejoin="miter"/><path d="M430.49 399.41V424.53M426.49 399.41H434.49M426.49 424.53H434.49" stroke="#000" stroke-width="1.25" fill="none"/><polygon points="434.08,419.33 439.68,428.43 428.48,428.43" fill="#fff" stroke="#000" stroke-width="1.2" stroke-linejoin="miter"/><path d="M434.08 411.97V437.1M430.08 411.97H438.08M430.08 437.1H438.08" stroke="#000" stroke-width="1.25" fill="none"/><polygon points="441.27,437.38 446.87,446.48 435.67,446.48" fill="#fff" stroke="#000" stroke-width="1.2" stroke-linejoin="miter"/><path d="M441.27 425.68V459.48M437.27 425.68H445.27M437.27 459.48H445.27" stroke="#000" stroke-width="1.25" fill="none"/><polygon points="448.45,462.04 454.05,471.14 442.85,471.14" fill="#fff" stroke="#000" stroke-width="1.2" stroke-linejoin="miter"/><path d="M448.45 454V480.49M444.45 454H452.45M444.45 480.49H452.45" stroke="#000" stroke-width="1.25" fill="none"/><polygon points="470,516.63 475.6,525.73 464.4,525.73" fill="#fff" stroke="#000" stroke-width="1.2" stroke-linejoin="miter"/><path d="M470 506.99V536.68M466 506.99H474M466 536.68H474" stroke="#000" stroke-width="1.25" fill="none"/><polygon points="491.55,530.79 497.15,539.89 485.95,539.89" fill="#fff" stroke="#000" stroke-width="1.2" stroke-linejoin="miter"/><path d="M491.55 526.4V545.59M487.55 526.4H495.55M487.55 545.59H495.55" stroke="#000" stroke-width="1.25" fill="none"/><polygon points="513.1,548.38 518.7,557.48 507.5,557.48" fill="#fff" stroke="#000" stroke-width="1.2" stroke-linejoin="miter"/><path d="M513.1 543.53V563.63M509.1 543.53H517.1M509.1 563.63H517.1" stroke="#000" stroke-width="1.25" fill="none"/><polygon points="534.64,563.23 540.25,572.33 529.04,572.33" fill="#fff" stroke="#000" stroke-width="1.2" stroke-linejoin="miter"/><path d="M534.64 563.4V573.45M530.64 563.4H538.64M530.64 573.45H538.64" stroke="#000" stroke-width="1.25" fill="none"/><polygon points="577.74,575.1 583.34,584.2 572.14,584.2" fill="#fff" stroke="#000" stroke-width="1.2" stroke-linejoin="miter"/><path d="M577.74 577.56V583.04M573.74 577.56H581.74M573.74 583.04H581.74" stroke="#000" stroke-width="1.25" fill="none"/><polygon points="642.39,579.44 647.99,588.54 636.79,588.54" fill="#fff" stroke="#000" stroke-width="1.2" stroke-linejoin="miter"/><path d="M642.39 581.67V587.61M638.39 581.67H646.39M638.39 587.61H646.39" stroke="#000" stroke-width="1.25" fill="none"/>
<rect x="421.25" y="367.95" width="11.3" height="11.3" fill="#fff" stroke="#000" stroke-width="1.3"/><path d="M430.49 445.32V472.73M426.49 445.32H434.49M426.49 472.73H434.49" stroke="#000" stroke-width="1.25" fill="none"/><rect x="424.84" y="453.37" width="11.3" height="11.3" fill="#fff" stroke="#000" stroke-width="1.3"/><path d="M434.08 474.1V487.8M430.08 474.1H438.08M430.08 487.8H438.08" stroke="#000" stroke-width="1.25" fill="none"/><rect x="428.43" y="475.3" width="11.3" height="11.3" fill="#fff" stroke="#000" stroke-width="1.3"/><path d="M441.27 497.85V528.91M437.27 497.85H445.27M437.27 528.91H445.27" stroke="#000" stroke-width="1.25" fill="none"/><rect x="435.62" y="507.73" width="11.3" height="11.3" fill="#fff" stroke="#000" stroke-width="1.3"/><path d="M448.45 533.71V547.41M444.45 533.71H452.45M444.45 547.41H452.45" stroke="#000" stroke-width="1.25" fill="none"/><rect x="442.8" y="534.91" width="11.3" height="11.3" fill="#fff" stroke="#000" stroke-width="1.3"/><path d="M470 572.54V586.24M466 572.54H474M466 586.24H474" stroke="#000" stroke-width="1.25" fill="none"/><rect x="464.35" y="573.74" width="11.3" height="11.3" fill="#fff" stroke="#000" stroke-width="1.3"/><path d="M491.55 587.84V592.41M487.55 587.84H495.55M487.55 592.41H495.55" stroke="#000" stroke-width="1.25" fill="none"/><rect x="485.9" y="584.47" width="11.3" height="11.3" fill="#fff" stroke="#000" stroke-width="1.3"/><path d="M513.1 593.89V596.63M509.1 593.89H517.1M509.1 596.63H517.1" stroke="#000" stroke-width="1.25" fill="none"/><rect x="507.45" y="589.61" width="11.3" height="11.3" fill="#fff" stroke="#000" stroke-width="1.3"/><path d="M534.64 596.29V598.57M530.64 596.29H538.64M530.64 598.57H538.64" stroke="#000" stroke-width="1.25" fill="none"/><rect x="529" y="591.78" width="11.3" height="11.3" fill="#fff" stroke="#000" stroke-width="1.3"/><path d="M577.74 599.94V601.31M573.74 599.94H581.74M573.74 601.31H581.74" stroke="#000" stroke-width="1.25" fill="none"/><rect x="572.09" y="594.98" width="11.3" height="11.3" fill="#fff" stroke="#000" stroke-width="1.3"/><rect x="636.74" y="596.01" width="11.3" height="11.3" fill="#fff" stroke="#000" stroke-width="1.3"/>
 <text transform="translate(13.9,143.9) rotate(-90.05) scale(1.035,1)" text-anchor="middle" font-size="16">Residual ratio (%)</text>
 <text transform="translate(13.9,479.9) rotate(-90.05) scale(1.035,1)" text-anchor="middle" font-size="16">Residual ratio (%)</text>
<text transform="matrix(1.035,0.001,0,1,186.3,651.5)" text-anchor="middle" font-size="16">Time (min)</text>
<text transform="matrix(1.035,0.001,0,1,553.4,651.5)" text-anchor="middle" font-size="16">Time (min)</text>
<circle cx="129.5" cy="35.1" r="4.41" fill="#000"/><text transform="matrix(1,0.001,0,1,141.25,39.8)" font-size="14.85" font-weight="bold" stroke="#000" stroke-width="0.3" letter-spacing="-0.3">I</text><text transform="matrix(1,0.001,0,1,149.55,39.8)" font-size="14.85" xml:space="preserve"><tspan>(single)</tspan></text>
<polygon points="220.3,30.52 225.65,39.15 214.95,39.15" fill="#000"/><text transform="matrix(1,0.001,0,1,232.95,39.8)" font-size="14.85" font-weight="bold" stroke="#000" stroke-width="0.3" letter-spacing="-0.3">II</text><text transform="matrix(1,0.001,0,1,245.65,39.8)" font-size="14.85" xml:space="preserve"><tspan>(single)</tspan></text>
<rect x="216.97" y="53.17" width="8.25" height="8.25" fill="#000"/><text transform="matrix(1,0.001,0,1,233.85,62.3)" font-size="14.85" font-weight="bold" stroke="#000" stroke-width="0.3" letter-spacing="-0.3">III</text><text transform="matrix(1,0.001,0,1,250.35,62.3)" font-size="14.85" xml:space="preserve"><tspan>(single)</tspan></text>
<circle cx="498.8" cy="36.3" r="4.41" fill="#000"/><text transform="matrix(1,0.001,0,1,511.05,40.6)" font-size="14.85" font-weight="bold" stroke="#000" stroke-width="0.3" letter-spacing="-0.3">I</text><text transform="matrix(1,0.001,0,1,520.35,40.6)" font-size="14.85" xml:space="preserve"><tspan>(single)</tspan></text>
<circle cx="590.5" cy="36.3" r="3.77" fill="#fff" stroke="#000" stroke-width="1"/><text transform="matrix(1,0.001,0,1,603.45,40.6)" font-size="14.85" font-weight="bold" stroke="#000" stroke-width="0.3" letter-spacing="-0.3">I</text><text transform="matrix(1,0.001,0,1,612.05,40.6)" font-size="14.85" xml:space="preserve"><tspan>(I + </tspan><tspan font-weight="bold" stroke="#000" stroke-width="0.3">II</tspan><tspan>)</tspan></text>
<polygon points="499.2,48.12 504.55,56.75 493.85,56.75" fill="#000"/><text transform="matrix(1,0.001,0,1,510.95,58.1)" font-size="14.85" font-weight="bold" stroke="#000" stroke-width="0.3" letter-spacing="-0.3">II</text><text transform="matrix(1,0.001,0,1,525.55,58.1)" font-size="14.85" xml:space="preserve"><tspan>(single)</tspan></text>
<polygon points="590.4,48.68 595.27,56.59 585.53,56.59" fill="#fff" stroke="#000" stroke-width="0.95" stroke-linejoin="miter"/><text transform="matrix(1,0.001,0,1,602.95,58.1)" font-size="14.85" font-weight="bold" stroke="#000" stroke-width="0.3" letter-spacing="-0.3">II</text><text transform="matrix(1,0.001,0,1,616.25,58.1)" font-size="14.85" xml:space="preserve"><tspan>(I + </tspan><tspan font-weight="bold" stroke="#000" stroke-width="0.3">II</tspan><tspan>)</tspan></text>
<circle cx="129.5" cy="372.9" r="4.41" fill="#000"/><text transform="matrix(1,0.001,0,1,142.05,378)" font-size="14.85" font-weight="bold" stroke="#000" stroke-width="0.3" letter-spacing="-0.3">I</text><text transform="matrix(1,0.001,0,1,150.05,378)" font-size="14.85" xml:space="preserve"><tspan>(single)</tspan></text>
<circle cx="220.9" cy="372.9" r="3.77" fill="#fff" stroke="#000" stroke-width="1"/><text transform="matrix(1,0.001,0,1,233.75,378)" font-size="14.85" font-weight="bold" stroke="#000" stroke-width="0.3" letter-spacing="-0.3">I</text><text transform="matrix(1,0.001,0,1,242.05,378)" font-size="14.85" xml:space="preserve"><tspan>(</tspan><tspan font-weight="bold" stroke="#000" stroke-width="0.3">I</tspan><tspan> + </tspan><tspan font-weight="bold" stroke="#000" stroke-width="0.3">III</tspan><tspan>)</tspan></text>
<rect x="125.77" y="386.07" width="8.25" height="8.25" fill="#000"/><text transform="matrix(1,0.001,0,1,142.05,395.3)" font-size="14.85" font-weight="bold" stroke="#000" stroke-width="0.3" letter-spacing="-0.3">III</text><text transform="matrix(1,0.001,0,1,158.75,395.3)" font-size="14.85" xml:space="preserve"><tspan>(single)</tspan></text>
<rect x="217.71" y="386.81" width="7.57" height="7.57" fill="#fff" stroke="#000" stroke-width="0.9"/><text transform="matrix(1,0.001,0,1,233.75,395.3)" font-size="14.85" font-weight="bold" stroke="#000" stroke-width="0.3" letter-spacing="-0.3">III</text><text transform="matrix(1,0.001,0,1,250.45,395.3)" font-size="14.85" xml:space="preserve"><tspan>(</tspan><tspan font-weight="bold" stroke="#000" stroke-width="0.3">I</tspan><tspan> + </tspan><tspan font-weight="bold" stroke="#000" stroke-width="0.3">III</tspan><tspan>)</tspan></text>
<polygon points="479.6,391.12 484.95,399.75 474.25,399.75" fill="#000"/><text transform="matrix(1,0.001,0,1,492.25,401.3)" font-size="14.85" font-weight="bold" stroke="#000" stroke-width="0.3" letter-spacing="-0.3">II</text><text transform="matrix(1,0.001,0,1,505.25,401.3)" font-size="14.85" xml:space="preserve"><tspan>(single)</tspan></text>
<polygon points="570.5,391.48 575.37,399.39 565.63,399.39" fill="#fff" stroke="#000" stroke-width="0.95" stroke-linejoin="miter"/><text transform="matrix(1,0.001,0,1,583.05,401.3)" font-size="14.85" font-weight="bold" stroke="#000" stroke-width="0.3" letter-spacing="-0.3">II</text><text transform="matrix(1,0.001,0,1,596.05,401.3)" font-size="14.85" xml:space="preserve"><tspan>(</tspan><tspan font-weight="bold" stroke="#000" stroke-width="0.3">II</tspan><tspan> + </tspan><tspan font-weight="bold" stroke="#000" stroke-width="0.3">III</tspan><tspan>)</tspan></text>
<rect x="474.87" y="407.97" width="8.25" height="8.25" fill="#000"/><text transform="matrix(1,0.001,0,1,492.25,418.2)" font-size="14.85" font-weight="bold" stroke="#000" stroke-width="0.3" letter-spacing="-0.3">III</text><text transform="matrix(1,0.001,0,1,509.35,418.2)" font-size="14.85" xml:space="preserve"><tspan>(single)</tspan></text>
<rect x="566.91" y="408.31" width="7.57" height="7.57" fill="#fff" stroke="#000" stroke-width="0.9"/><text transform="matrix(1,0.001,0,1,583.05,418.2)" font-size="14.85" font-weight="bold" stroke="#000" stroke-width="0.3" letter-spacing="-0.3">III</text><text transform="matrix(1,0.001,0,1,599.85,418.2)" font-size="14.85" xml:space="preserve"><tspan>(</tspan><tspan font-weight="bold" stroke="#000" stroke-width="0.3">II</tspan><tspan> + </tspan><tspan font-weight="bold" stroke="#000" stroke-width="0.3">III</tspan><tspan>)</tspan></text>
</svg>
</body></html>
